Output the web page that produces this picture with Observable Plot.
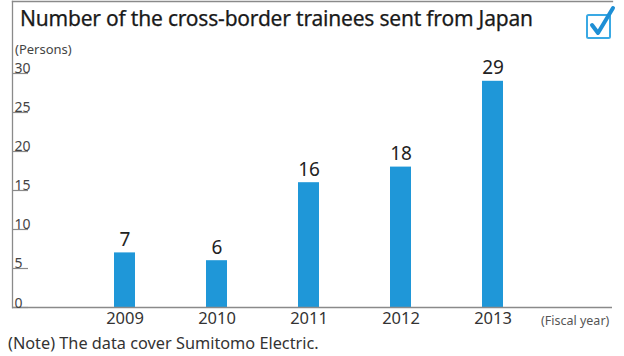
<!DOCTYPE html>
<html>
<head>
<meta charset="utf-8">
<script src="https://cdn.jsdelivr.net/npm/d3@7"></script>
<script src="https://cdn.jsdelivr.net/npm/@observablehq/plot@0.6"></script>
<style>
  html, body { margin: 0; padding: 0; background: #fff; }
  #wrap { position: relative; width: 624px; height: 356px; overflow: hidden; font-family: "Noto Sans", sans-serif; }
  #chart { position: absolute; left: 0; top: 0; }
  .title { position: absolute; left: 20px; top: 4px; font-size: 21px; color: #1a1a1a; white-space: nowrap; letter-spacing: -0.2px; -webkit-text-stroke: 0.25px #1a1a1a; }
  .unit { position: absolute; left: 15px; top: 40px; font-size: 13px; color: #444; }
  .fy { position: absolute; left: 541px; top: 312px; font-size: 12.5px; color: #555; white-space: nowrap; }
  .note { position: absolute; left: 8px; top: 332px; font-size: 16.3px; color: #333; white-space: nowrap; }
  .check { position: absolute; left: 583px; top: 4px; }
</style>
</head>
<body>
<div id="wrap">
  <div id="chart"></div>
  <div class="title">Number of the cross-border trainees sent from Japan</div>
  <div class="unit">(Persons)</div>
  <div class="fy">(Fiscal year)</div>
  <div class="note">(Note) The data cover Sumitomo Electric.</div>
  <svg class="check" width="34" height="38" viewBox="0 0 34 38">
    <rect x="4" y="11" width="23" height="23" rx="1.5" fill="none" stroke="#3aa9e4" stroke-width="2"/>
    <path d="M9 21 L15 29 L30 4" fill="none" stroke="#1e8fd5" stroke-width="4" stroke-linecap="round" stroke-linejoin="round"/>
  </svg>
</div>
<script>
const years = ["2009", "2010", "2011", "2012", "2013"];
const trainees = [7, 6, 16, 18, 29];
const yTicks = [0, 5, 10, 15, 20, 25, 30];

const data = years.map((year, i) => ({year, value: trainees[i]}));

const chart = Plot.plot({
  width: 624,
  height: 356,
  marginTop: 1,
  marginBottom: 49,
  marginLeft: 12,
  marginRight: 12,
  style: {fontFamily: "'Noto Sans', sans-serif", background: "#fff"},
  x: {type: "band", domain: years, paddingInner: 0.773, paddingOuter: 1.13, align: 0.483, axis: null},
  y: {domain: [0, 39.23], axis: null},
  marks: [
    Plot.frame({anchor: "left", stroke: "#8a8a8a", strokeWidth: 1.3}),
    Plot.frame({anchor: "top", stroke: "#8a8a8a", strokeWidth: 1.3}),
    Plot.tickY(yTicks, {y: d => d, insetRight: 584, stroke: "#8a8a8a", strokeWidth: 1.2}),
    Plot.barY(data, {x: "year", y: "value", fill: "#1f97d8"}),
    Plot.ruleY([0], {stroke: "#8a8a8a", strokeWidth: 1.3}),
    Plot.text(yTicks, {y: d => d, text: d => String(d), frameAnchor: "left", textAnchor: "start", dx: 2, lineAnchor: "bottom", dy: 0, fontSize: 14, fill: "#444"}),
    Plot.text(data, {x: "year", y: "value", text: d => String(d.value), lineAnchor: "bottom", dy: -7, fontSize: 19, fill: "#222"}),
    Plot.text(data, {x: "year", text: "year", frameAnchor: "bottom", lineAnchor: "top", dy: 5, fontSize: 16.5, fill: "#333"})
  ]
});
document.getElementById("chart").appendChild(chart);
</script>
</body>
</html>
